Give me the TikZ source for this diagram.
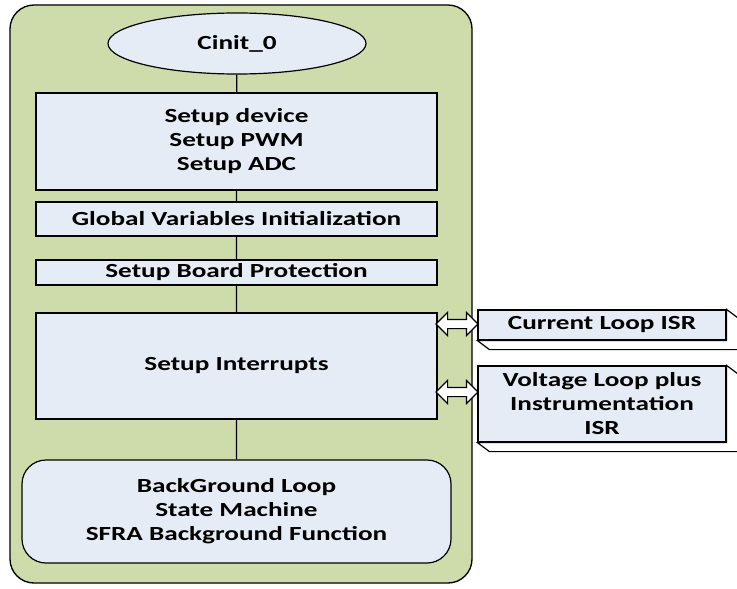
\documentclass[tikz,border=0pt]{standalone}
\usepackage{fontspec}
\setmainfont{Carlito}[FakeStretch=1.36]
\usetikzlibrary{shapes.geometric,shapes.arrows}
\definecolor{panelgreen}{RGB}{205,220,170}
\definecolor{boxblue}{RGB}{230,236,246}
\begin{document}
\begin{tikzpicture}[x=0.75pt, y=-0.75pt,
      every node/.style={font=\bfseries\fontsize{15}{18}\selectfont, align=center, inner sep=0pt},
      stepbox/.style={draw, fill=boxblue, line width=0.9pt, minimum width=300.75pt},
      isrbox/.style={draw, fill=boxblue, line width=0.9pt, minimum width=186pt},
      dblarrow/.style={double arrow, draw, fill=white, line width=0.9pt, inner sep=3pt,
                       minimum height=31.5pt, minimum width=16.5pt,
                       double arrow head extend=5.25pt}]
      \clip (0, 0) rectangle (737, 588);
      \draw [fill=panelgreen, line width=1pt, rounded corners=18pt] (10, 5) rectangle (472, 583);
      \node [ellipse, draw, fill=boxblue, line width=0.9pt, minimum width=193.5pt, minimum height=45.75pt]
            (cinit) at (237, 43.5) {Cinit\_0};
      \node [stepbox, minimum height=72.75pt] (setup) at (236.5, 141.5) {Setup device\\Setup PWM\\Setup ADC};
      \node [stepbox, minimum height=25.5pt] (glob) at (236.5, 219) {Global Variables Initialization};
      \node [stepbox, minimum height=18.75pt] (prot) at (236.5, 272.5) {Setup Board Protection};
      \node [stepbox, minimum height=79.5pt] (intr) at (236.5, 366) {Setup Interrupts};
      \node [stepbox, minimum width=321.75pt, minimum height=77.25pt, rounded corners=18pt]
            (bgl) at (236.5, 511.5) {BackGround Loop\\State Machine\\SFRA Background Function};
      \draw [line width=0.9pt] (cinit) -- (setup)
                               (setup) -- (glob)
                               (glob) -- (prot)
                               (prot) -- (intr)
                               (intr) -- (bgl);
      % ISR boxes with depth
      \node [isrbox, minimum height=22.5pt] (cur) at (602, 325) {Current Loop ISR};
      \node [isrbox, minimum height=57pt] (volt) at (602, 404) {Voltage Loop plus\\Instrumentation\\ISR};
      \draw [line width=0.9pt, fill=white] (cur.south west) -- ++(12, 9) -- ([shift={(12, 9)}]cur.south east)
            -- ([shift={(12, 9)}]cur.north east) -- (cur.north east) -- (cur.south east) -- cycle;
      \draw [line width=0.9pt, fill=white] (volt.south west) -- ++(12, 9) -- ([shift={(12, 9)}]volt.south east)
            -- ([shift={(12, 9)}]volt.north east) -- (volt.north east) -- (volt.south east) -- cycle;
      \node [dblarrow] (arrcur) at (457, 324) {};
      \node [dblarrow] (arrvolt) at (457, 392) {};
\end{tikzpicture}
\end{document}
